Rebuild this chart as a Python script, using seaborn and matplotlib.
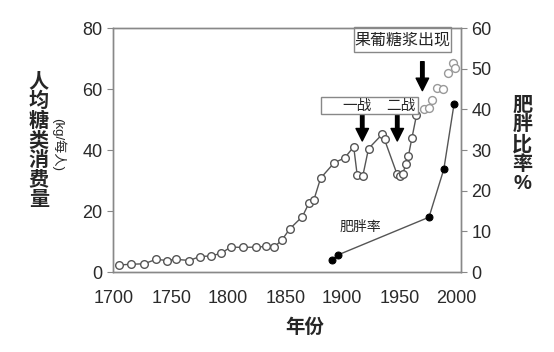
import matplotlib
matplotlib.use('Agg')
import matplotlib.pyplot as plt
from matplotlib.patches import Rectangle
import seaborn as sns

# sugar consumption (kg per person), connected series
sugar_years = [1704, 1715, 1726, 1737, 1746, 1754, 1766, 1775, 1785, 1794,
               1802, 1813, 1824, 1833, 1840, 1847, 1854, 1865, 1871, 1875,
               1881, 1893, 1902, 1910, 1913, 1918, 1923, 1935, 1937, 1948,
               1951, 1953, 1956, 1958, 1961, 1965]
sugar_vals = [2.3, 2.6, 2.7, 4.2, 3.8, 4.2, 3.8, 5.1, 5.3, 6.2,
              8.2, 8.1, 8.2, 8.4, 8.1, 10.5, 14.2, 18.2, 22.8, 23.6,
              30.8, 35.9, 37.4, 41.1, 32.0, 31.6, 40.5, 45.2, 43.5, 32.1,
              31.6, 32.3, 35.6, 38.2, 43.9, 51.4]
# later scattered sugar points (no line)
late_years = [1972, 1976, 1979, 1983, 1988, 1993, 1997, 1999]
late_vals = [53.5, 53.7, 56.5, 60.3, 60.1, 65.4, 68.5, 67.0]

# obesity rate (%)
obese_years = [1891, 1896, 1976, 1989, 1998]
obese_vals = [3.0, 4.2, 13.5, 25.3, 41.4]

sns.set_style('white')
plt.rcParams['font.family'] = ['Liberation Sans', 'Noto Sans CJK SC']

fig = plt.figure(figsize=(5.54, 3.52), dpi=100)
ax = fig.add_axes([0.204, 0.227, 0.628, 0.693])

sns.lineplot(x=sugar_years, y=sugar_vals, ax=ax, color='#555555', linewidth=1,
             marker='o', markersize=5.5, markerfacecolor='white',
             markeredgecolor='#555555', markeredgewidth=1)
sns.scatterplot(x=late_years, y=late_vals, ax=ax, s=32, marker='o',
                facecolor='white', edgecolor='#999999', linewidth=1, zorder=3)

ax.set_xlim(1699, 2004)
ax.set_ylim(0, 80)
ax.set_xticks(range(1700, 2001, 50))
ax.set_yticks(range(0, 81, 20))

ax2 = ax.twinx()
sns.lineplot(x=obese_years, y=obese_vals, ax=ax2, color='#555555', linewidth=1,
             marker='o', markersize=5, markerfacecolor='black',
             markeredgecolor='black')
ax2.set_ylim(0, 60)
ax2.set_yticks(range(0, 61, 10))
ax2.set_ylabel('')

for a in (ax, ax2):
    for s in a.spines.values():
        s.set_color('#888888')
        s.set_linewidth(1)
    a.tick_params(length=4, color='#888888', labelsize=13, labelcolor='#2a2a2a')
ax.tick_params(axis='x', pad=9)

# axis labels (stacked characters)
fig.text(0.070, 0.60, '\n'.join('人均糖类消费量'), ha='center', va='center',
         fontsize=14.5, fontweight='bold', linespacing=1.03)
fig.text(0.106, 0.59, '(kg/每人)', ha='center', va='center', rotation=-90,
         fontsize=9.5)
fig.text(0.943, 0.589, '\n'.join('肥胖比率%'), ha='center', va='center',
         fontsize=14.5, fontweight='bold', linespacing=1.03)
fig.text(0.551, 0.07, '年份', ha='center', va='center', fontsize=14,
         fontweight='bold')

# annotation boxes
ax.add_patch(Rectangle((1910.5, 72.1), 85, 8.2, facecolor='white',
                       edgecolor='#888888', linewidth=1, clip_on=False, zorder=5))
ax.text(1953, 76.2, '果葡糖浆出现', ha='center', va='center', fontsize=11.5,
        zorder=6)
ax.add_patch(Rectangle((1881.5, 51.8), 85, 5.6, facecolor='white',
                       edgecolor='#888888', linewidth=1, zorder=5))
ax.text(1913, 54.6, '一战', ha='center', va='center', fontsize=10.5, zorder=6)
ax.text(1951, 54.6, '二战', ha='center', va='center', fontsize=10.5, zorder=6)

arrow = dict(facecolor='black', edgecolor='black', width=2.5, headwidth=9,
             headlength=9)
ax.annotate('', xy=(1917.5, 43.0), xytext=(1917.5, 51.6), arrowprops=arrow)
ax.annotate('', xy=(1948.2, 43.0), xytext=(1948.2, 51.6), arrowprops=arrow)
ax.annotate('', xy=(1970.2, 59.5), xytext=(1970.2, 69.0), arrowprops=arrow)

ax.text(1915.5, 14.8, '肥胖率', ha='center', va='center', fontsize=10)

fig.savefig('out.png', dpi=100)
plt.close()
